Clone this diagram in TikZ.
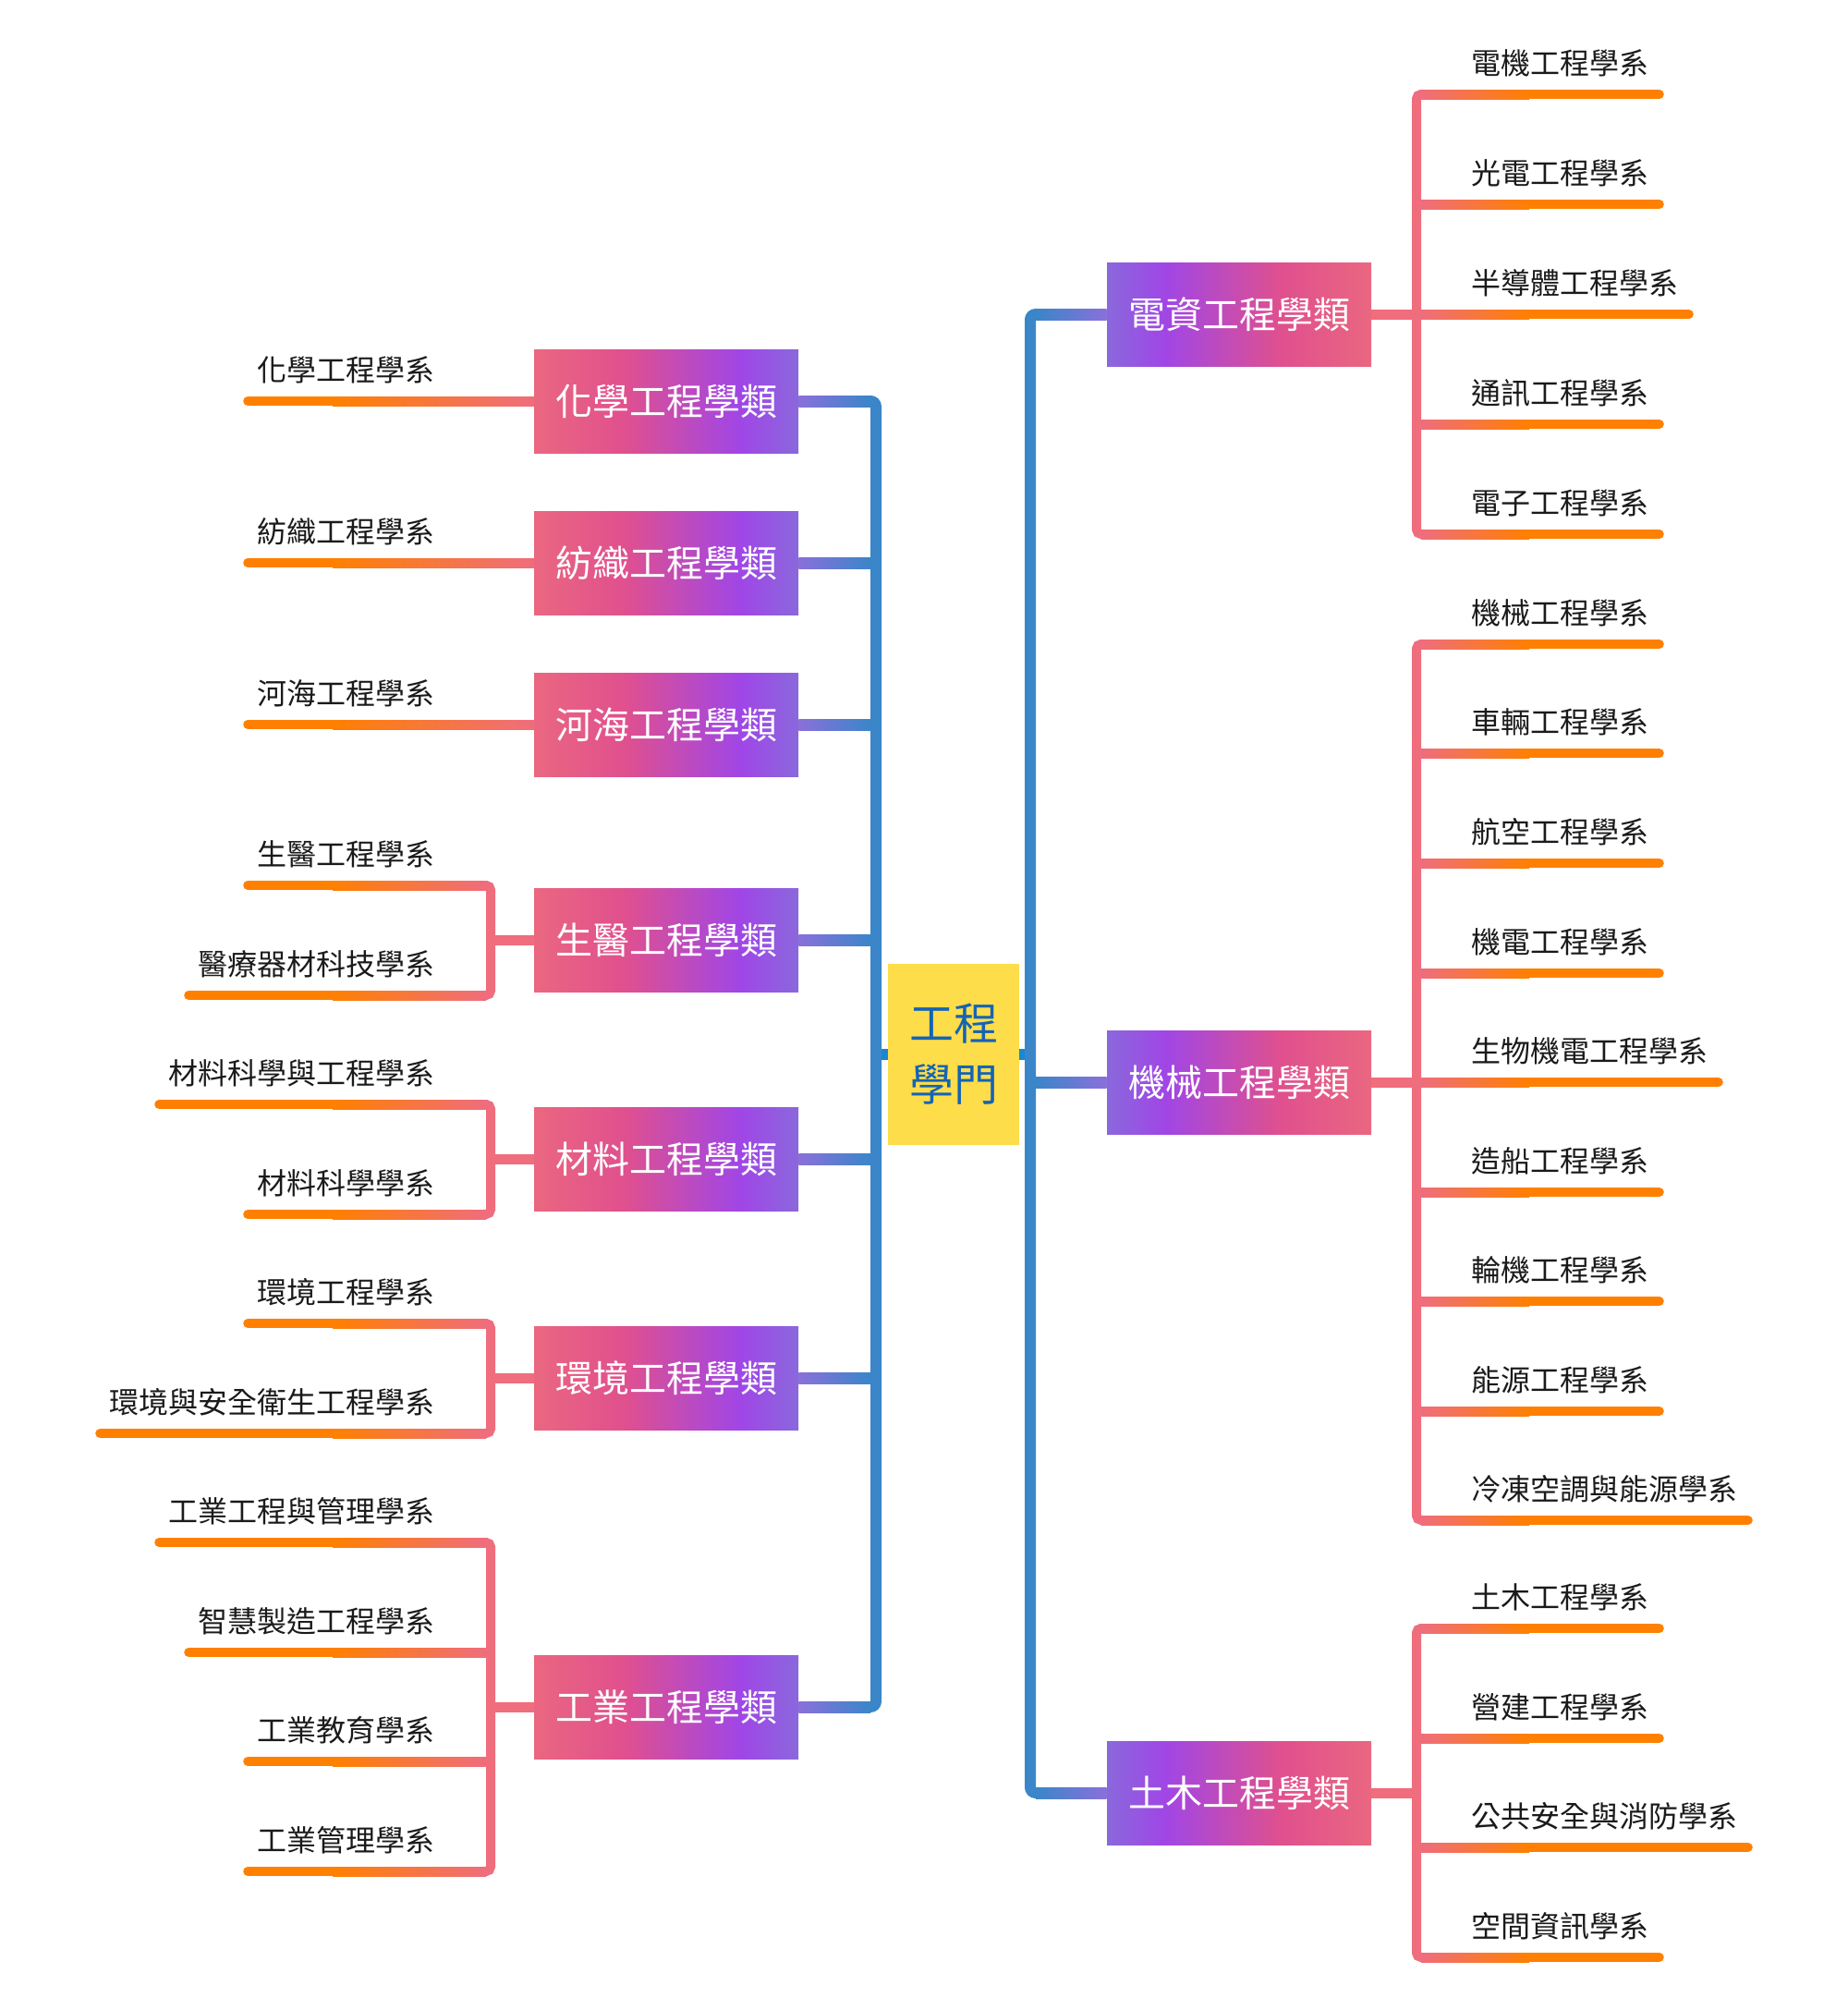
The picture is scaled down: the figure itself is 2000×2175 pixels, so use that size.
\documentclass[tikz,border=0pt]{standalone}
\usepackage{fontspec}
\setmainfont{Noto Sans CJK TC}
\usetikzlibrary{positioning,calc}

\definecolor{trunkblue}{HTML}{3A86C9}
\definecolor{stubblue}{HTML}{1A88D0}
\definecolor{linkpurple}{HTML}{8A70DA}
\definecolor{catblue}{HTML}{8A68DC}
\definecolor{catviolet}{HTML}{A046E6}
\definecolor{catpink}{HTML}{E0508E}
\definecolor{catrose}{HTML}{EA6780}
\definecolor{branchpink}{HTML}{EF6D7C}
\definecolor{leaforange}{HTML}{FF8000}
\definecolor{rootyellow}{HTML}{FEDD4A}
\definecolor{roottext}{HTML}{1564B4}
\definecolor{leaftext}{HTML}{1A1A1A}

\pgfdeclarehorizontalshading{catR}{100bp}{color(0bp)=(catblue); color(25bp)=(catblue);
    color(36bp)=(catviolet); color(58bp)=(catpink); color(75bp)=(catrose); color(100bp)=(catrose)}
\pgfdeclarehorizontalshading{catL}{100bp}{color(0bp)=(catrose); color(25bp)=(catrose);
    color(42bp)=(catpink); color(64bp)=(catviolet); color(75bp)=(catblue); color(100bp)=(catblue)}

\begin{document}
\begin{tikzpicture}[x=0.5pt,y=-0.5pt,
    root/.style={rectangle,fill=rootyellow,text=roottext,minimum width=71pt,
        minimum height=98pt,align=center,font=\fontsize{24}{33}\selectfont},
    cat/.style={rectangle,shade,text=white,minimum width=143pt,minimum height=56pt,
        inner sep=0pt,font=\fontsize{20}{24}\selectfont},
    catleft/.style={cat,shading=catL},
    catright/.style={cat,shading=catR},
    leaf/.style={inner sep=0pt,text=leaftext,font=\fontsize{16}{19}\selectfont},
    trunk/.style={line width=6pt,draw=trunkblue,rounded corners=3pt},
    stub/.style={line width=6pt,draw=stubblue},
    bracket/.style={line width=5pt,draw=branchpink,rounded corners=2.5pt},
    branch/.style={line width=5.5pt,draw=branchpink},
    leafline/.style={line width=5pt,draw=leaforange,line cap=round}
]
\useasboundingbox (0,0) rectangle (2000,2175);

\node[root] (root) at (1032,1141) {工程\\學門};
\coordinate (tL) at (948,1141);
\coordinate (tR) at (1115,1141);

% categories
\node[catleft] (chem) at (721,434) {化學工程學類};
\node[catleft] (textile) at (721,609) {紡織工程學類};
\node[catleft] (river) at (721,784) {河海工程學類};
\node[catleft] (bio) at (721,1017.5) {生醫工程學類};
\node[catleft] (mat) at (721,1254.5) {材料工程學類};
\node[catleft] (env) at (721,1491.5) {環境工程學類};
\node[catleft] (indu) at (721,1847) {工業工程學類};
\node[catright] (elec) at (1341,340) {電資工程學類};
\node[catright] (mech) at (1341,1171) {機械工程學類};
\node[catright] (civil) at (1341,1940) {土木工程學類};

% trunks
\draw[stub] (root.west) -- (tL);
\draw[stub] (root.east) -- (tR);
\draw[trunk] ($(tL |- chem)+(-30,0)$) -- (tL |- chem) -- (tL |- indu) -- +(-30,0);
\draw[trunk] ($(tR |- elec)+(30,0)$) -- (tR |- elec) -- (tR |- civil) -- +(30,0);
\foreach \c in {chem,textile,river,bio,mat,env,indu}
    \shade[left color=linkpurple,right color=trunkblue]
        ($(\c.east)+(0,-6)$) rectangle ($(tL |- \c.east)+(-6,6)$);
\foreach \c in {elec,mech,civil}
    \shade[left color=trunkblue,right color=linkpurple]
        ($(tR |- \c.west)+(6,-6)$) rectangle ($(\c.west)+(0,6)$);

% departments, right
\foreach \ly/\lbl [count=\i] in {102/電機工程學系,221/光電工程學系,340/半導體工程學系,
    459/通訊工程學系,578/電子工程學系,697/機械工程學系,815/車輛工程學系,934/航空工程學系,
    1053/機電工程學系,1171/生物機電工程學系,1290/造船工程學系,1408/輪機工程學系,
    1527/能源工程學系,1645/冷凍空調與能源學系,1762/土木工程學系,1881/營建工程學系,
    1999/公共安全與消防學系,2118/空間資訊學系}{
    \node[leaf,anchor=west] (r\i) at (1592,\ly-34) {\lbl};
    \coordinate (ra\i) at (1533,\ly);
    \draw[leafline] (1645,\ly) -- ($(r\i.east)+(11,34)$);
    \shade[left color=branchpink,right color=leaforange] (1538,\ly-5) rectangle (1655,\ly+5);
}

% departments, left
\foreach \ly/\gx/\lbl [count=\i] in {434/578/化學工程學系,609/578/紡織工程學系,
    784/578/河海工程學系,958/526/生醫工程學系,1077/526/醫療器材科技學系,
    1195/526/材料科學與工程學系,1314/526/材料科學學系,1432/526/環境工程學系,
    1551/526/環境與安全衛生工程學系,1669/526/工業工程與管理學系,1788/526/智慧製造工程學系,
    1906/526/工業教育學系,2025/526/工業管理學系}{
    \node[leaf,anchor=east] (l\i) at (471,\ly-34) {\lbl};
    \coordinate (la\i) at (531,\ly);
    \draw[leafline] ($(l\i.west)+(-10,34)$) -- (370,\ly);
    \shade[left color=leaforange,right color=branchpink] (360,\ly-5) rectangle (\gx,\ly+5);
}

% brackets
\draw[bracket] ($(ra1)+(10,0)$) -- (ra1) -- (ra5) -- +(10,0);
\draw[bracket] ($(ra6)+(10,0)$) -- (ra6) -- (ra14) -- +(10,0);
\draw[bracket] ($(ra15)+(10,0)$) -- (ra15) -- (ra18) -- +(10,0);
\draw[branch] (elec.east) -- (elec.east -| ra1);
\draw[branch] (mech.east) -- (mech.east -| ra1);
\draw[branch] (civil.east) -- (civil.east -| ra1);

\draw[bracket] ($(la4)+(-10,0)$) -- (la4) -- (la5) -- +(-10,0);
\draw[bracket] ($(la6)+(-10,0)$) -- (la6) -- (la7) -- +(-10,0);
\draw[bracket] ($(la8)+(-10,0)$) -- (la8) -- (la9) -- +(-10,0);
\draw[bracket] ($(la10)+(-10,0)$) -- (la10) -- (la13) -- +(-10,0);
\draw[branch] (bio.west) -- (bio.west -| la4);
\draw[branch] (mat.west) -- (mat.west -| la4);
\draw[branch] (env.west) -- (env.west -| la4);
\draw[branch] (indu.west) -- (indu.west -| la4);
\end{tikzpicture}
\end{document}
